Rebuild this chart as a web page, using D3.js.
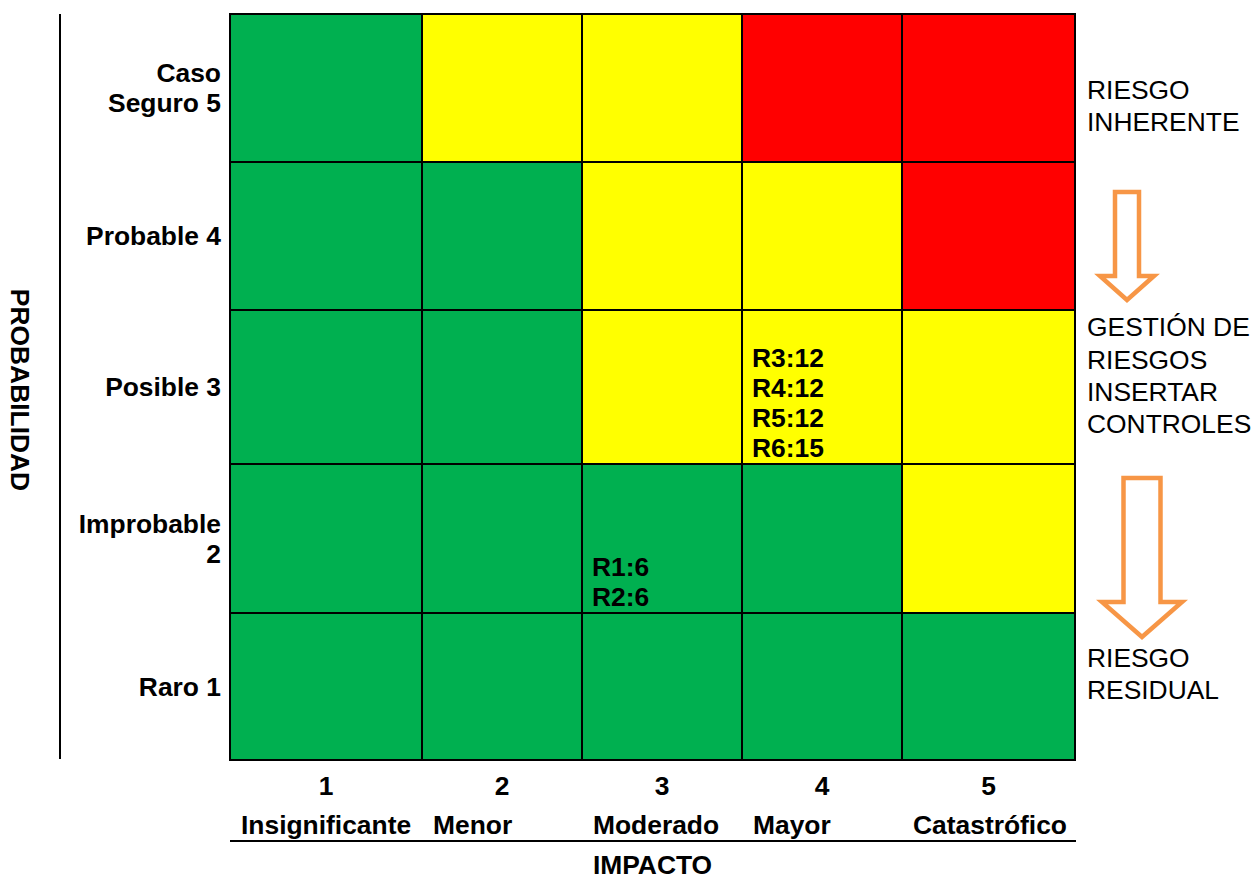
<!DOCTYPE html>
<html>
<head>
<meta charset="utf-8">
<script src="https://cdn.jsdelivr.net/npm/d3@7"></script>
<style>
  html, body { margin: 0; padding: 0; background: #fff; }
  svg { display: block; font-family: "Liberation Sans", Arial, sans-serif; }
</style>
</head>
<body>
<svg id="chart" width="1256" height="879"></svg>
<script>
// Impact levels (columns) and probability levels (rows)
const impactLevels = [1, 2, 3, 4, 5];
const impactNames = ["Insignificante", "Menor", "Moderado", "Mayor", "Catastrófico"];
const probLevels = [5, 4, 3, 2, 1];
const probNames = [["Caso", "Seguro 5"], ["Probable 4"], ["Posible 3"], ["Improbable", "2"], ["Raro 1"]];

// Zone of each cell, row per probability level (5 → 1), column per impact level (1 → 5)
const zoneRows = [
  ["bajo", "medio", "medio", "alto", "alto"],
  ["bajo", "bajo", "medio", "medio", "alto"],
  ["bajo", "bajo", "medio", "medio", "medio"],
  ["bajo", "bajo", "bajo", "bajo", "medio"],
  ["bajo", "bajo", "bajo", "bajo", "bajo"]
];
const zoneColors = { bajo: "#00B050", medio: "#FFFF00", alto: "#FF0000" };

// Identified risks with their score and the cell they sit in
const riskIds = ["R1", "R2", "R3", "R4", "R5", "R6"];
const riskScores = [6, 6, 12, 12, 12, 15];
const riskProb = [2, 2, 3, 3, 3, 3];
const riskImpact = [3, 3, 4, 4, 4, 4];

// Side notes describing the process
const noteTop = ["RIESGO", "INHERENTE"];
const noteMid = ["GESTIÓN DE", "RIESGOS", "INSERTAR", "CONTROLES"];
const noteBottom = ["RIESGO", "RESIDUAL"];

const svg = d3.select("#chart");
const FS = 26.4;

// Cell boundaries: columns and rows are not all equal in size
const x = d3.scaleLinear().domain([0, 1, 2, 3, 4, 5]).range([230, 422, 582, 742, 902, 1075]);
const y = d3.scaleLinear().domain([0, 1, 2, 3, 4, 5]).range([14, 162, 310, 464, 613, 760]);
const colIdx = d3.scaleOrdinal().domain(impactLevels).range(d3.range(5));
const rowIdx = d3.scaleOrdinal().domain(probLevels).range(d3.range(5));

// Cells
const cells = [];
probLevels.forEach((p, r) => impactLevels.forEach((imp, c) => cells.push({ p, imp, zone: zoneRows[r][c] })));

svg.append("g").selectAll("rect").data(cells).join("rect")
  .attr("x", d => x(colIdx(d.imp)))
  .attr("y", d => y(rowIdx(d.p)))
  .attr("width", d => x(colIdx(d.imp) + 1) - x(colIdx(d.imp)))
  .attr("height", d => y(rowIdx(d.p) + 1) - y(rowIdx(d.p)))
  .attr("fill", d => zoneColors[d.zone])
  .attr("stroke", "#000")
  .attr("stroke-width", 2);

// Risk labels, stacked from the bottom-left of their cell
const risks = riskIds.map((id, i) => ({ id, score: riskScores[i], p: riskProb[i], imp: riskImpact[i] }));
const byCell = d3.groups(risks, d => d.p + "-" + d.imp);
const riskG = svg.append("g").attr("font-weight", "bold").attr("font-size", FS).attr("fill", "#000");
byCell.forEach(([key, list]) => {
  const c = colIdx(list[0].imp), r = rowIdx(list[0].p);
  riskG.selectAll(null).data(list).join("text")
    .attr("x", x(c) + 10)
    .attr("y", (d, i) => y(r + 1) - 7 - (list.length - 1 - i) * 30)
    .text(d => `${d.id}:${d.score}`);
});

// Probability labels (right-aligned, vertically centred in each row)
const rowG = svg.append("g").attr("font-weight", "bold").attr("font-size", FS).attr("text-anchor", "end");
probNames.forEach((lines, r) => {
  const cy = (y(r) + y(r + 1)) / 2;
  rowG.selectAll(null).data(lines).join("text")
    .attr("x", 221)
    .attr("y", (d, i) => cy + (i - (lines.length - 1) / 2) * 30)
    .attr("dy", "0.35em")
    .text(d => d);
});

// Impact numbers (centred) and names (left-aligned) under the grid
const colG = svg.append("g").attr("font-weight", "bold").attr("font-size", FS);
colG.selectAll(".num").data(impactLevels).join("text")
  .attr("class", "num")
  .attr("x", d => (x(colIdx(d)) + x(colIdx(d) + 1)) / 2)
  .attr("y", 795)
  .attr("text-anchor", "middle")
  .text(d => d);
colG.selectAll(".name").data(impactNames).join("text")
  .attr("class", "name")
  .attr("x", (d, i) => x(i) + 11)
  .attr("y", 834)
  .text(d => d);

// Underline of the impact axis and its title
svg.append("line")
  .attr("x1", x(0)).attr("x2", x(5) + 1)
  .attr("y1", 841).attr("y2", 841)
  .attr("stroke", "#000").attr("stroke-width", 2);
svg.append("text")
  .attr("x", (x(0) + x(5)) / 2).attr("y", 874)
  .attr("text-anchor", "middle")
  .attr("font-weight", "bold").attr("font-size", FS)
  .text("IMPACTO");

// Probability axis: rule and rotated title
svg.append("line")
  .attr("x1", 60).attr("x2", 60)
  .attr("y1", y(0)).attr("y2", y(5) - 1)
  .attr("stroke", "#000").attr("stroke-width", 2);
svg.append("text")
  .attr("transform", `translate(20,${(y(0) + y(5)) / 2 + 3}) rotate(90)`)
  .attr("text-anchor", "middle")
  .attr("dy", "0.35em")
  .attr("font-weight", "bold").attr("font-size", FS)
  .text("PROBABILIDAD");

// Side notes
function note(lines, cy) {
  svg.append("g").attr("font-size", FS).selectAll("text").data(lines).join("text")
    .attr("x", 1087)
    .attr("y", (d, i) => cy + (i - (lines.length - 1) / 2) * 32.3)
    .attr("dy", "0.35em")
    .text(d => d);
}
note(noteTop, 106);
note(noteMid, 375.5);
note(noteBottom, 674);

// Hollow down arrows between the notes
function downArrow(cx, top, shaftW, headW, headTop, tip) {
  const p = d3.path();
  p.moveTo(cx - shaftW / 2, top);
  p.lineTo(cx + shaftW / 2, top);
  p.lineTo(cx + shaftW / 2, headTop);
  p.lineTo(cx + headW / 2, headTop);
  p.lineTo(cx, tip);
  p.lineTo(cx - headW / 2, headTop);
  p.lineTo(cx - shaftW / 2, headTop);
  p.closePath();
  svg.append("path")
    .attr("d", p.toString())
    .attr("fill", "#fff")
    .attr("stroke", "#F79646")
    .attr("stroke-width", 4.5)
    .attr("stroke-linejoin", "miter");
}
downArrow(1127, 192, 24, 54, 276, 300);
downArrow(1142, 478, 37, 80, 602, 637);
</script>
</body>
</html>
